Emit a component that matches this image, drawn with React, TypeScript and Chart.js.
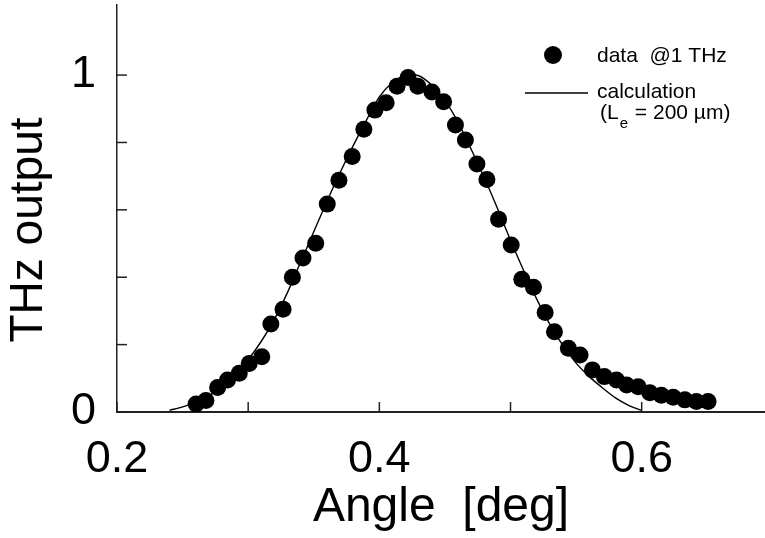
import React, { useEffect, useRef } from "react";
import { Chart, registerables } from "chart.js";

Chart.register(...registerables);

// Measured data @ 1 THz
const dataAngle = [
  0.2603, 0.2678, 0.2767, 0.2843, 0.2932, 0.3008, 0.3104, 0.3173, 0.3266, 0.3337,
  0.3418, 0.3515, 0.3603, 0.3692, 0.3793, 0.3882, 0.3966, 0.4052, 0.4135, 0.4219,
  0.4293, 0.4401, 0.449, 0.458, 0.4656, 0.4744, 0.482, 0.4909, 0.5005, 0.5086,
  0.5175, 0.5264, 0.5335, 0.5441, 0.553, 0.5624, 0.5715, 0.5808, 0.5885, 0.5973,
  0.6062, 0.615, 0.624, 0.6329, 0.6417, 0.6506,
];
const dataOutput = [
  0.024, 0.034, 0.073, 0.095, 0.115, 0.144, 0.164, 0.261, 0.305, 0.4,
  0.457, 0.501, 0.617, 0.688, 0.758, 0.839, 0.896, 0.918, 0.967, 0.993,
  0.967, 0.95, 0.921, 0.852, 0.807, 0.736, 0.69, 0.572, 0.496, 0.394,
  0.37, 0.295, 0.238, 0.189, 0.169, 0.125, 0.105, 0.095, 0.08, 0.075,
  0.057, 0.05, 0.044, 0.036, 0.031, 0.031,
];

// Calculation (Le = 200 um)
const calcAngle = [
  0.24, 0.25, 0.26, 0.27, 0.28, 0.29, 0.3, 0.31, 0.32, 0.33,
  0.34, 0.35, 0.36, 0.37, 0.38, 0.39, 0.4, 0.41, 0.42, 0.43,
  0.44, 0.45, 0.46, 0.47, 0.48, 0.49, 0.5, 0.51, 0.52, 0.53,
  0.54, 0.55, 0.56, 0.57, 0.58, 0.59, 0.6,
];
const calcOutput = [
  0.005, 0.015, 0.03, 0.048, 0.075, 0.11, 0.155, 0.21, 0.275, 0.355,
  0.445, 0.535, 0.625, 0.71, 0.79, 0.865, 0.935, 0.978, 1.0, 0.998,
  0.97, 0.925, 0.86, 0.78, 0.695, 0.605, 0.51, 0.42, 0.335, 0.26,
  0.197, 0.145, 0.105, 0.072, 0.042, 0.02, 0.005,
];

const xTickValues = [0.2, 0.3, 0.4, 0.5, 0.6];
const xTickLabels = ["0.2", "", "0.4", "", "0.6"];
const yTickValues = [0, 0.2, 0.4, 0.6, 0.8, 1];
const yTickLabels = ["0", "", "", "", "", "1"];

const xTitle = "Angle  [deg]";
const yTitle = "THz output";

const FONT = "'Liberation Sans', Arial, Helvetica, sans-serif";

const labelFor = (values: number[], labels: string[], v: number) => {
  const i = values.findIndex((t) => Math.abs(t - v) < 1e-6);
  return i >= 0 ? labels[i] : "";
};

const decorPlugin = {
  id: "decor",
  afterDraw(chart: any) {
    const { ctx, chartArea } = chart;
    const xs = chart.scales.x;
    const ys = chart.scales.y;
    ctx.save();
    ctx.strokeStyle = "#222";
    ctx.lineWidth = 1.5;
    xTickValues.forEach((v) => {
      const px = xs.getPixelForValue(v);
      ctx.beginPath();
      ctx.moveTo(px, chartArea.bottom);
      ctx.lineTo(px, chartArea.bottom - 10);
      ctx.stroke();
    });
    yTickValues.forEach((v) => {
      const py = ys.getPixelForValue(v);
      ctx.beginPath();
      ctx.moveTo(chartArea.left, py);
      ctx.lineTo(chartArea.left + 10, py);
      ctx.stroke();
    });

    // y-axis title
    ctx.fillStyle = "#000";
    ctx.save();
    ctx.translate(29, 230);
    ctx.rotate(-Math.PI / 2);
    ctx.font = `46px ${FONT}`;
    ctx.textAlign = "center";
    ctx.textBaseline = "middle";
    ctx.fillText(yTitle, 0, 0);
    ctx.restore();

    // legend
    ctx.beginPath();
    ctx.arc(553, 55, 9, 0, Math.PI * 2);
    ctx.fill();
    ctx.font = `21px ${FONT}`;
    ctx.textBaseline = "middle";
    ctx.textAlign = "left";
    ctx.fillText("data  @1 THz", 597, 56);
    ctx.strokeStyle = "#000";
    ctx.lineWidth = 1.5;
    ctx.beginPath();
    ctx.moveTo(525, 93);
    ctx.lineTo(588, 93);
    ctx.stroke();
    ctx.fillText("calculation", 597, 92);
    ctx.fillText("(L", 600, 113);
    const w1 = ctx.measureText("(L").width;
    ctx.font = `15px ${FONT}`;
    ctx.fillText("e", 600 + w1 + 1, 124);
    const w2 = ctx.measureText("e").width;
    ctx.font = `21px ${FONT}`;
    ctx.fillText(" = 200 \u00b5m)", 600 + w1 + w2 + 2, 113);
    ctx.restore();
  },
};

export default function App() {
  const ref = useRef<HTMLCanvasElement | null>(null);
  useEffect(() => {
    if (!ref.current) return;
    const chart = new Chart(ref.current, {
      type: "scatter",
      data: {
        datasets: [
          {
            label: "data @1 THz",
            data: dataAngle.map((x, i) => ({ x, y: dataOutput[i] })),
            pointRadius: 8.5,
            pointBackgroundColor: "#000",
            pointBorderWidth: 0,
            showLine: false,
            order: 0,
          },
          {
            label: "calculation",
            data: calcAngle.map((x, i) => ({ x, y: calcOutput[i] })),
            showLine: true,
            borderColor: "#000",
            borderWidth: 1.4,
            pointRadius: 0,
            tension: 0.3,
            order: 1,
          },
        ],
      },
      options: {
        responsive: false,
        animation: false,
        devicePixelRatio: 1,
        layout: { autoPadding: false, padding: { top: 5, right: 0, left: 0, bottom: 0 } },
        plugins: { legend: { display: false }, tooltip: { enabled: false } },
        scales: {
          x: {
            type: "linear",
            min: 0.2,
            max: 0.694,
            afterBuildTicks: (s: any) => {
              s.ticks = xTickValues.map((value) => ({ value }));
            },
            afterFit: (s: any) => {
              s.height = 126;
              s.paddingLeft = 0;
              s.paddingRight = 0;
            },
            ticks: {
              padding: 21,
              color: "#000",
              font: { family: FONT, size: 45 },
              maxRotation: 0,
              autoSkip: false,
              callback: (v: any) => labelFor(xTickValues, xTickLabels, Number(v)),
            },
            grid: { drawOnChartArea: false, drawTicks: false },
            border: { display: true, color: "#222", width: 2 },
            title: {
              display: true,
              text: xTitle,
              color: "#000",
              font: { family: FONT, size: 48 },
              padding: { top: 0, bottom: 1 },
            },
          },
          y: {
            type: "linear",
            min: 0,
            max: 1.208,
            afterBuildTicks: (s: any) => {
              s.ticks = yTickValues.map((value) => ({ value }));
            },
            afterFit: (s: any) => {
              s.width = 117;
              s.paddingTop = 0;
              s.paddingBottom = 0;
            },
            ticks: {
              padding: 21,
              color: "#000",
              font: { family: FONT, size: 45 },
              autoSkip: false,
              callback: (v: any) => labelFor(yTickValues, yTickLabels, Number(v)),
            },
            grid: { drawOnChartArea: false, drawTicks: false },
            border: { display: true, color: "#222", width: 1.5 },
            title: { display: false, text: yTitle },
          },
        },
      },
      plugins: [decorPlugin],
    });
    return () => chart.destroy();
  }, []);
  return (
    <div style={{ position: "fixed", left: 0, top: 0, width: 765, height: 538, background: "#fff" }}>
      <canvas ref={ref} width={765} height={538} style={{ display: "block" }} />
    </div>
  );
}
